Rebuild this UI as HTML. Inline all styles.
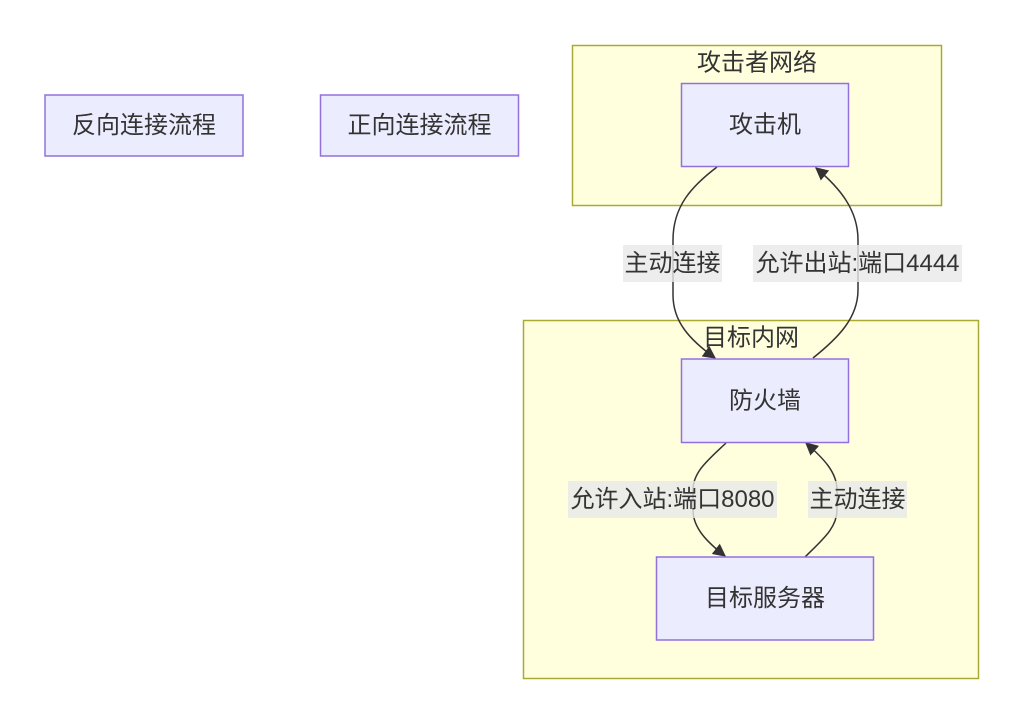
<!DOCTYPE html>
<html>
<head>
<meta charset="utf-8">
<style>
  html, body { margin:0; padding:0; background:#ffffff; }
  svg { display:block; }
  text { font-family: "Liberation Sans", "Noto Sans CJK SC", sans-serif; font-size:24px; fill:#333333; }
</style>
</head>
<body>
<svg width="1024" height="724" viewBox="0 0 1024 724" xmlns="http://www.w3.org/2000/svg">
  <defs>
    <marker id="arr" viewBox="0 0 10 10" refX="9" refY="5" markerWidth="13" markerHeight="13" markerUnits="userSpaceOnUse" orient="auto">
      <path d="M0,0 L10,5 L0,10 z" fill="#333333"/>
    </marker>
  </defs>

  <!-- clusters -->
  <rect x="572.5" y="45.5" width="369" height="160" fill="#ffffde" stroke="#aaaa33" stroke-width="1.5"/>
  <rect x="523.5" y="320.5" width="455" height="358" fill="#ffffde" stroke="#aaaa33" stroke-width="1.5"/>
  <text x="757" y="63" text-anchor="middle" dominant-baseline="central">攻击者网络</text>
  <text x="751" y="338" text-anchor="middle" dominant-baseline="central">目标内网</text>

  <!-- standalone nodes -->
  <rect x="45" y="95" width="198" height="61" fill="#ECECFF" stroke="#9370DB" stroke-width="1.5"/>
  <text x="144" y="125.5" text-anchor="middle" dominant-baseline="central">反向连接流程</text>
  <rect x="320.5" y="95" width="198" height="61" fill="#ECECFF" stroke="#9370DB" stroke-width="1.5"/>
  <text x="419.5" y="125.5" text-anchor="middle" dominant-baseline="central">正向连接流程</text>

  <!-- edges -->
  <path d="M717,167 C692,186 673,206 673,240 L673,295 C673,322 690,340 715,358" fill="none" stroke="#333333" stroke-width="1.5" marker-end="url(#arr)"/>
  <path d="M813,358 C838,338 858,318 858,290 L858,240 C858,210 840,188 816,168" fill="none" stroke="#333333" stroke-width="1.5" marker-end="url(#arr)"/>
  <path d="M726,443 C708,460 693,472 693,490 L693,510 C693,528 707,542 725,556" fill="none" stroke="#333333" stroke-width="1.5" marker-end="url(#arr)"/>
  <path d="M805,557 C822,540 837,528 837,510 L837,490 C837,472 823,458 806,443" fill="none" stroke="#333333" stroke-width="1.5" marker-end="url(#arr)"/>

  <!-- nodes in clusters -->
  <rect x="681.5" y="83.5" width="167" height="83" fill="#ECECFF" stroke="#9370DB" stroke-width="1.5"/>
  <text x="765" y="125" text-anchor="middle" dominant-baseline="central">攻击机</text>
  <rect x="681.5" y="359" width="167" height="83.5" fill="#ECECFF" stroke="#9370DB" stroke-width="1.5"/>
  <text x="765" y="401" text-anchor="middle" dominant-baseline="central">防火墙</text>
  <rect x="656.5" y="557" width="217" height="83" fill="#ECECFF" stroke="#9370DB" stroke-width="1.5"/>
  <text x="765" y="598.5" text-anchor="middle" dominant-baseline="central">目标服务器</text>

  <!-- edge labels -->
  <rect x="623" y="245" width="99" height="37" fill="rgba(232,232,232,0.8)"/>
  <text x="672.5" y="263.5" text-anchor="middle" dominant-baseline="central">主动连接</text>
  <rect x="753" y="245" width="209" height="37" fill="rgba(232,232,232,0.8)"/>
  <text x="857.5" y="263.5" text-anchor="middle" dominant-baseline="central">允许出站:端口4444</text>
  <rect x="568" y="481" width="209" height="37" fill="rgba(232,232,232,0.8)"/>
  <text x="672.5" y="499.5" text-anchor="middle" dominant-baseline="central">允许入站:端口8080</text>
  <rect x="808" y="481" width="99" height="37" fill="rgba(232,232,232,0.8)"/>
  <text x="857.5" y="499.5" text-anchor="middle" dominant-baseline="central">主动连接</text>
</svg>
</body>
</html>
